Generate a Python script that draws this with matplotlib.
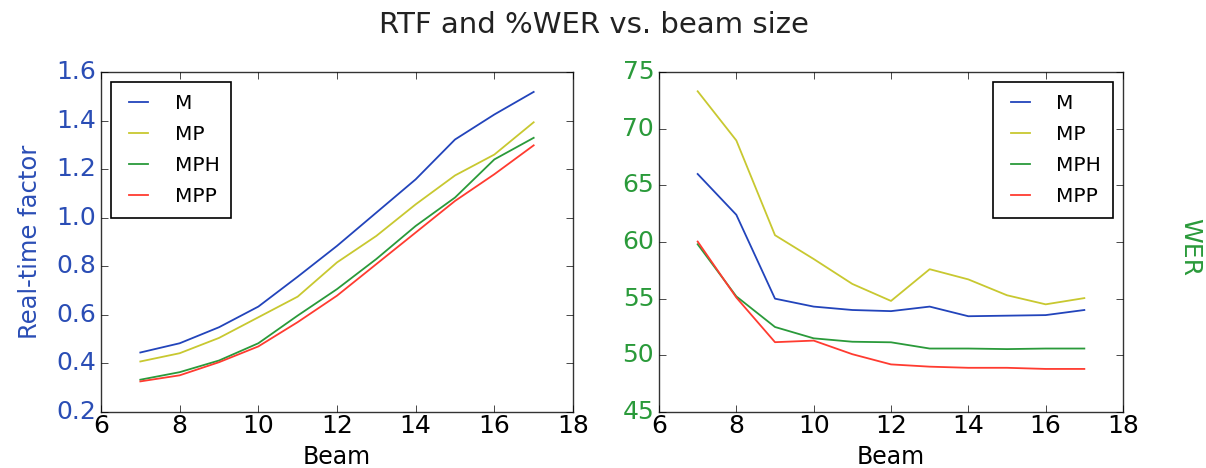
import matplotlib
matplotlib.use("Agg")
import matplotlib.pyplot as plt

plt.style.use('classic')
plt.rcParams['font.family'] = ['DejaVu Sans']

beam = [7, 8, 9, 10, 11, 12, 13, 14, 15, 16, 17]
series = ['M', 'MP', 'MPH', 'MPP']
colors = ['#2244bb', '#c8c830', '#2a9a3a', '#ff3b30']

rtf_M = [0.445, 0.483, 0.549, 0.634, 0.757, 0.884, 1.021, 1.158, 1.322, 1.425, 1.518]
rtf_MP = [0.408, 0.442, 0.505, 0.590, 0.675, 0.816, 0.925, 1.055, 1.174, 1.260, 1.393]
rtf_MPH = [0.333, 0.364, 0.412, 0.483, 0.597, 0.706, 0.830, 0.966, 1.083, 1.240, 1.329]
rtf_MPP = [0.326, 0.351, 0.405, 0.470, 0.570, 0.679, 0.809, 0.939, 1.069, 1.179, 1.298]

wer_M = [66.0, 62.4, 55.0, 54.3, 54.0, 53.9, 54.3, 53.45, 53.5, 53.55, 54.0]
wer_MP = [73.3, 68.96, 60.6, 58.5, 56.3, 54.8, 57.6, 56.7, 55.3, 54.5, 55.05]
wer_MPH = [59.8, 55.2, 52.5, 51.5, 51.2, 51.15, 50.6, 50.6, 50.55, 50.6, 50.6]
wer_MPP = [60.04, 55.1, 51.16, 51.3, 50.1, 49.2, 49.0, 48.9, 48.9, 48.8, 48.8]

rtf = [rtf_M, rtf_MP, rtf_MPH, rtf_MPP]
wer = [wer_M, wer_MP, wer_MPH, wer_MPP]

W, H = 1206, 468
fig = plt.figure(figsize=(W / 100, H / 100), dpi=100, facecolor='white')

ax1 = fig.add_axes([101 / W, (H - 412) / H, (573 - 101) / W, (412 - 72) / H])
ax2 = fig.add_axes([659 / W, (H - 412) / H, (1123 - 659) / W, (412 - 72) / H])

for name, vals, c in zip(series, rtf, colors):
    ax1.plot(beam, vals, color=c, lw=1.3, label=name)
for name, vals, c in zip(series, wer, colors):
    ax2.plot(beam, vals, color=c, lw=1.3, label=name)

ax1.set_xlim(6, 18)
ax1.set_ylim(0.2, 1.6)
ax1.set_xticks([6, 8, 10, 12, 14, 16, 18])
ax1.set_yticks([0.2, 0.4, 0.6, 0.8, 1.0, 1.2, 1.4, 1.6])
ax2.set_xlim(6, 18)
ax2.set_ylim(45, 75)
ax2.set_xticks([6, 8, 10, 12, 14, 16, 18])
ax2.set_yticks([45, 50, 55, 60, 65, 70, 75])

blue = '#2a4db5'
green = '#2a9a3a'
for ax in (ax1, ax2):
    ax.tick_params(axis='both', labelsize=18, direction='in', length=5)
    ax.tick_params(axis='x', pad=1.5)
    ax.tick_params(axis='y', pad=3.5)
    ax.set_xlabel('Beam', fontsize=17, labelpad=5)
    for s in ax.spines.values():
        s.set_color('#333333')
ax1.tick_params(axis='y', labelcolor=blue)
ax2.tick_params(axis='y', labelcolor=green)
ax1.set_ylabel('Real-time factor', fontsize=17.5, color=blue, labelpad=10)

fig.text(1190 / W, 1 - 247 / H, 'WER', rotation=270, color=green, fontsize=18,
         ha='center', va='center')

leg_kw = dict(fontsize=14.5, handlelength=1.55, labelspacing=0.6,
              borderpad=0.6, handletextpad=1.0, fancybox=False, borderaxespad=0.5)
leg1 = ax1.legend(loc='upper left', **leg_kw)
leg2 = ax2.legend(loc='upper right', **leg_kw)
for leg in (leg1, leg2):
    leg.get_frame().set_edgecolor('black')
    leg.get_frame().set_linewidth(1.2)

fig.text(594 / W, 1 - 25 / H, 'RTF and %WER vs. beam size', fontsize=21,
         ha='center', va='center', color='#222222')

fig.savefig('out.png', dpi=100, facecolor='white')
